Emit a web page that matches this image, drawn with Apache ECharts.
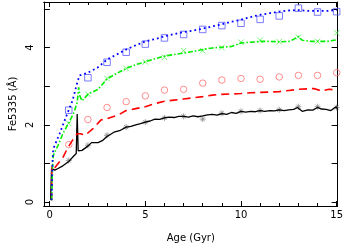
<!DOCTYPE html>
<html><head><meta charset="utf-8">
<script src="https://cdn.jsdelivr.net/npm/echarts@6/dist/echarts.min.js"></script>
<style>html,body{margin:0;padding:0;background:#fff}#c{width:346px;height:248px}</style>
</head><body><div id="c"></div>
<script>
// ---- data ----
const markerAges = [1,2,3,4,5,6,7,8,9,10,11,12,13,14,15];
const blueSquares = [2.38,3.22,3.62,3.88,4.09,4.25,4.34,4.47,4.57,4.63,4.73,4.82,5.02,4.92,4.93];
const greenCrosses = [2.04,2.79,3.2,3.46,3.63,3.75,3.92,3.92,4.0,4.14,4.19,4.15,4.27,4.16,4.38];
const redCircles = [1.49,2.14,2.45,2.6,2.75,2.9,2.92,3.08,3.16,3.2,3.18,3.24,3.28,3.28,3.35];
const grayStars = [1.08,1.47,1.73,1.94,2.07,2.18,2.22,2.15,2.3,2.35,2.37,2.39,2.47,2.47,2.45];

const blueAge = [0.1,0.15,0.19,0.52,0.85,1.19,1.47,1.56,2.0,2.5,3.0,3.5,4.0,4.5,5,5.5,6,6.5,7,7.5,8,8.5,9,9.5,10,10.5,11,11.5,12,12.5,13,13.5,14,14.5,15];
const blueVal = [0.05,1.05,1.38,1.77,2.2,2.62,3.14,3.28,3.35,3.48,3.69,3.82,3.95,4.06,4.16,4.22,4.29,4.35,4.4,4.44,4.49,4.55,4.6,4.67,4.72,4.79,4.85,4.89,4.93,4.96,4.97,4.95,4.95,4.95,4.97];

const greenAge = [0.1,0.15,0.19,0.44,0.69,1.02,1.27,1.44,1.52,1.58,1.69,2.0,2.53,3.0,3.5,4,4.5,5,5.5,6,6.5,7,7.5,8,8.5,9,9.5,10,10.5,11,11.5,12,12.5,12.7,13,13.2,13.7,14,14.5,15];
const greenVal = [0.05,0.9,1.21,1.47,1.77,2.07,2.32,2.58,2.97,2.75,2.62,2.79,2.92,3.19,3.33,3.46,3.56,3.63,3.71,3.78,3.82,3.86,3.9,3.95,3.99,4.01,4.03,4.12,4.14,4.16,4.16,4.15,4.16,4.2,4.29,4.19,4.16,4.16,4.16,4.2];

const redAge = [0.1,0.12,0.27,0.69,0.94,1.27,1.44,1.61,1.86,2.28,2.69,3.0,3.6,4,4.5,5,5.5,6,6.5,7,7.5,8,8.5,9,9.5,10,10.5,11,11.5,12,12.5,13,13.8,14.2,14.6,15];
const redVal = [0.05,0.96,0.89,1.15,1.4,1.66,1.77,1.77,1.73,1.91,2.13,2.16,2.26,2.37,2.42,2.47,2.55,2.61,2.64,2.67,2.7,2.73,2.77,2.79,2.8,2.81,2.83,2.84,2.85,2.86,2.89,2.92,2.94,2.88,2.92,2.9];

const blackAge = [0.05,0.1,0.27,0.44,0.69,1.02,1.27,1.39,1.44,1.49,1.69,2.0,2.19,2.53,2.78,3.0,3.36,3.7,4.0,4.25,4.5,4.75,5.0,5.25,5.5,5.75,6,6.25,6.5,6.75,7,7.25,7.5,7.75,8,8.25,8.5,8.75,9,9.25,9.5,9.75,10,10.25,10.5,10.75,11,11.25,11.5,11.75,12,12.25,12.5,12.75,12.95,13.2,13.5,13.75,14,14.2,14.45,14.7,14.97,15.05];
const blackVal = [0.06,0.87,0.83,0.87,0.94,1.06,1.2,1.26,2.28,1.33,1.34,1.45,1.54,1.54,1.6,1.7,1.81,1.86,1.94,1.96,2.0,2.03,2.07,2.1,2.15,2.14,2.18,2.2,2.19,2.22,2.22,2.2,2.23,2.21,2.23,2.26,2.27,2.25,2.29,2.27,2.32,2.3,2.35,2.33,2.35,2.34,2.37,2.35,2.37,2.36,2.39,2.37,2.39,2.4,2.45,2.35,2.39,2.38,2.45,2.41,2.4,2.37,2.47,2.41];

const xMajorTicks = [0,5,10,15];
const xMinorTicks = [0,1,2,3,4,5,6,7,8,9,10,11,12,13,14,15];
const yTicks = [0,1,2,3,4,5];
const yLabels = [0,2,4];

// ---- chart ----
const zip = (a,b) => a.map((v,i)=>[v,b[i]]);
const FONT = 'DejaVu Sans';
const X_MIN = -0.3, X_MAX = 15.05, Y_MIN = -0.1, Y_MAX = 5.18;
const axLine = {show:true, onZero:false, lineStyle:{color:'#000', width:1}};
function xAx(pos, ticks, len, labels, name){
  return {type:'value', position:pos, min:X_MIN, max:X_MAX,
    axisLine:axLine, splitLine:{show:false},
    axisTick:{show:true, inside:true, length:len, customValues:ticks, lineStyle:{color:'#000',width:1}},
    axisLabel: labels ? {show:true, customValues:labels, color:'#000', fontFamily:FONT, fontSize:10, margin:4} : {show:false},
    name: name||'', nameLocation:'middle', nameGap:27, nameTextStyle:{color:'#000', fontFamily:FONT, fontSize:10}};
}
function yAx(pos, labels, name){
  return {type:'value', position:pos, min:Y_MIN, max:Y_MAX,
    axisLine:axLine, splitLine:{show:false},
    axisTick:{show:true, inside:true, length:6, customValues:yTicks, lineStyle:{color:'#000',width:1}},
    axisLabel: labels ? {show:true, customValues:labels, rotate:90, color:'#000', fontFamily:FONT, fontSize:10, margin:8} : {show:false},
    name: name||'', nameLocation:'middle', nameGap:25, nameTextStyle:{color:'#000', fontFamily:FONT, fontSize:10}};
}
const starPath = 'path://M5,0L5,10M0,5L10,5M1.5,1.5L8.5,8.5M8.5,1.5L1.5,8.5';
const crossPath = 'path://M0,0L10,10M10,0L0,10';
function lineS(ages, vals, color, type, width){
  return {type:'line', data:zip(ages,vals), showSymbol:false, symbol:'none', silent:true, animation:false,
    lineStyle:{color, type, width}};
}
function markS(vals, symbol, size, color){
  return {type:'scatter', data:zip(markerAges, vals), symbol, symbolSize:size, silent:true, animation:false,
    itemStyle:{color:'none', borderColor:color, borderWidth:1}};
}
const chart = echarts.init(document.getElementById('c'), null, {renderer:'canvas'});
chart.setOption({
  animation:false,
  grid:{left:34, right:6, top:2, bottom:40, containLabel:false},
  xAxis:[xAx('bottom', xMajorTicks, 5, xMajorTicks, 'Age (Gyr)'), xAx('bottom', xMinorTicks, 3),
         xAx('top', xMajorTicks, 5), xAx('top', xMinorTicks, 3)],
  yAxis:[yAx('left', yLabels, 'Fe5335 (Å)'), yAx('right')],
  series:[
    lineS(blackAge, blackVal, '#000000', 'solid', 1.3),
    lineS(redAge, redVal, '#ff0000', [8,5], 1.6),
    lineS(greenAge, greenVal, '#00ee00', [5,2,1.5,2], 1.6),
    lineS(blueAge, blueVal, '#0000ff', [1.8,3], 1.8),
    markS(grayStars, starPath, 6, '#888888'),
    markS(redCircles, 'circle', 6.5, '#ff7070'),
    markS(greenCrosses, crossPath, 5.5, '#55ee55'),
    markS(blueSquares, 'rect', 6.5, '#5a5aff')
  ]
});
</script></body></html>
